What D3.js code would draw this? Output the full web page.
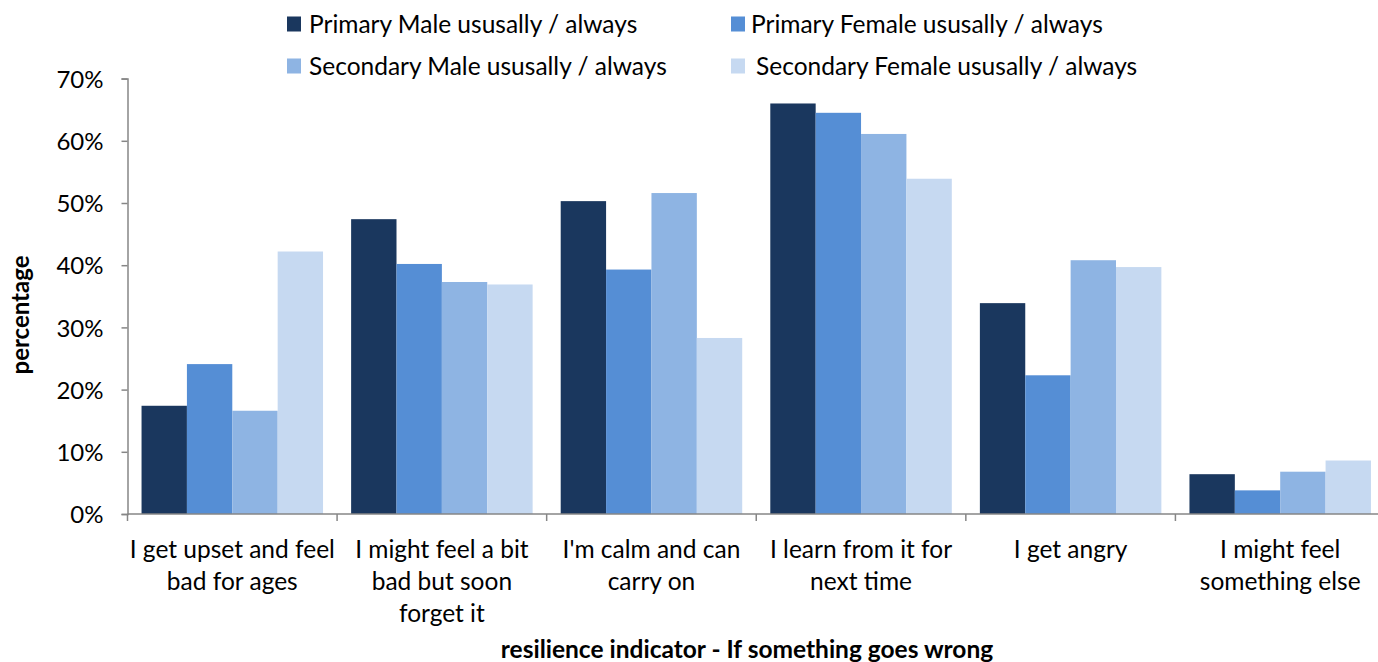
<!DOCTYPE html>
<html><head><meta charset="utf-8">
<script src="https://cdn.jsdelivr.net/npm/d3@7"></script>
<style>body{margin:0;background:#fff;} text{font-family:Lato, "Open Sans", sans-serif;fill:#000;}</style>
</head><body>
<svg id="chart" width="1378" height="662"></svg>
<script>
const categories = [
  ["I get upset and feel", "bad for ages"],
  ["I might feel a bit", "bad but soon", "forget it"],
  ["I'm calm and can", "carry on"],
  ["I learn from it for", "next time"],
  ["I get angry"],
  ["I might feel", "something else"]
];
const seriesNames = [
  "Primary Male ususally / always",
  "Primary Female ususally / always",
  "Secondary Male ususally / always",
  "Secondary Female ususally / always"
];
const primaryMale = [17.4, 47.4, 50.3, 66.0, 33.9, 6.4];
const primaryFemale = [24.1, 40.2, 39.3, 64.5, 22.3, 3.8];
const secondaryMale = [16.6, 37.3, 51.6, 61.1, 40.8, 6.8];
const secondaryFemale = [42.2, 36.9, 28.3, 53.9, 39.7, 8.6];
const yTicks = [0, 10, 20, 30, 40, 50, 60, 70];
const colors = ["#1a375e", "#558ed5", "#8eb4e3", "#c6d9f1"];
const series = [primaryMale, primaryFemale, secondaryMale, secondaryFemale];

const svg = d3.select("#chart");
const pLeft = 127.5, pRight = 1385, pTop = 78.6, pBottom = 514;
const x = d3.scaleBand().domain(d3.range(categories.length)).range([pLeft, pRight]).paddingInner(0.134).paddingOuter(0.067);
const x1 = d3.scaleBand().domain(d3.range(series.length)).range([0, x.bandwidth()]);
const y = d3.scaleLinear().domain([0, 70]).range([pBottom, pTop]);

// bars
series.forEach((s, si) => {
  svg.append("g").selectAll("rect").data(s).join("rect")
    .attr("x", (d, i) => x(i) + x1(si))
    .attr("width", x1.bandwidth())
    .attr("y", d => y(d))
    .attr("height", d => pBottom - y(d))
    .attr("fill", colors[si]);
});

// y axis
const yAxis = d3.axisLeft(y).tickValues(yTicks).tickFormat(d => d + "%").tickSize(6).tickPadding(18);
const yg = svg.append("g").attr("transform", `translate(${pLeft},0)`).call(yAxis);
yg.select(".domain").attr("stroke", "#868686").attr("stroke-width", 1.5);
yg.selectAll(".tick line").attr("stroke", "#868686").attr("stroke-width", 1.5);
yg.selectAll(".tick text").style("font-size", "24px").style("font-family", "Lato, sans-serif").attr("fill", "#000").attr("dy", "0.36em");

// x axis
const xb = d3.scaleLinear().domain([0, categories.length]).range([pLeft, pRight]);
const xg = svg.append("g").attr("transform", `translate(0,${pBottom})`);
xg.append("line").attr("x1", pLeft).attr("x2", pRight).attr("stroke", "#868686").attr("stroke-width", 1.5);
xg.selectAll("line.t").data(d3.range(categories.length + 1)).join("line").attr("class", "t")
  .attr("x1", d => xb(d)).attr("x2", d => xb(d)).attr("y1", 0).attr("y2", 7)
  .attr("stroke", "#868686").attr("stroke-width", 1.5);
categories.forEach((lines, i) => {
  const t = svg.append("text").attr("text-anchor", "middle").style("font-size", "24.5px");
  lines.forEach((ln, li) => {
    t.append("tspan").attr("x", x(i) + x.bandwidth() / 2).attr("y", 558 + li * 32).text(ln);
  });
});

// axis titles
svg.append("text").attr("x", 747).attr("y", 658).attr("text-anchor", "middle")
  .style("font-size", "24.5px").style("font-weight", "bold").text("resilience indicator - If something goes wrong");
svg.append("text").attr("transform", "translate(29,315) rotate(-90)").attr("text-anchor", "middle")
  .style("font-size", "24px").style("font-weight", "bold").text("percentage");

// legend
const legPos = [[287, 24, 309], [731, 24, 751], [287, 66, 309], [731, 66, 756]];
seriesNames.forEach((n, i) => {
  const [sx, sy, tx] = legPos[i];
  svg.append("rect").attr("x", sx).attr("y", sy - 7.5).attr("width", 14).attr("height", 15).attr("fill", colors[i]);
  svg.append("text").attr("x", tx).attr("y", sy).attr("dy", "0.36em").style("font-size", "24.5px").text(n);
});
</script>
</body></html>
